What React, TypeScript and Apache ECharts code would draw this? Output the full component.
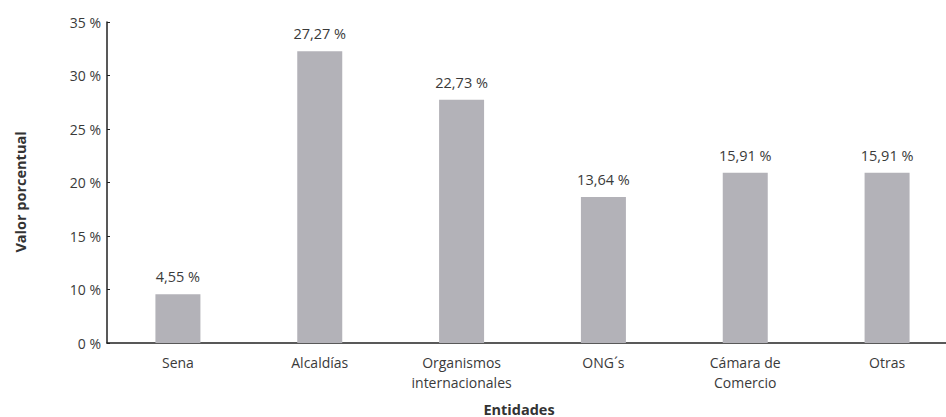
import React, { useEffect, useRef } from "react";
import * as echarts from "echarts";

const categories = ["Sena", "Alcaldías", "Organismos\ninternacionales", "ONG´s", "Cámara de\nComercio", "Otras"];
const values = [4.55, 27.27, 22.73, 13.64, 15.91, 15.91];
const valueLabels = ["4,55 %", "27,27 %", "22,73 %", "13,64 %", "15,91 %", "15,91 %"];
const yTickLabels = ["0 %", "10 %", "15 %", "20 %", "25 %", "30 %", "35 %"];

const FONT = "'Open Sans', 'Noto Sans', sans-serif";

export default function App() {
  const ref = useRef<HTMLDivElement>(null);
  useEffect(() => {
    const chart = echarts.init(ref.current!, null, { renderer: "svg" });
    chart.setOption({
      animation: false,
      backgroundColor: "#ffffff",
      grid: {
        left: 107,
        width: 851,
        top: 22,
        bottom: 74,
        containLabel: false,
        outerBoundsMode: "none",
      },
      xAxis: {
        type: "category",
        data: categories,
        axisLine: { show: true, lineStyle: { color: "#222", width: 1.5 } },
        axisTick: { show: false },
        axisLabel: { color: "#3a3a3a", fontSize: 14, fontFamily: FONT, margin: 9, lineHeight: 20, interval: 0 },
      },
      yAxis: {
        type: "value",
        min: 0,
        max: 30,
        interval: 5,
        splitLine: { show: false },
        axisLine: { show: true, lineStyle: { color: "#222", width: 1.5 } },
        axisTick: { show: true, inside: true, length: 3, lineStyle: { color: "#222" } },
        axisLabel: {
          color: "#3a3a3a",
          fontSize: 14,
          fontFamily: FONT,
          margin: 6,
          formatter: (v: number) => yTickLabels[Math.round(v / 5)] ?? "",
        },
      },
      series: [
        {
          type: "bar",
          data: values,
          barWidth: 45,
          itemStyle: { color: "#b3b2b8" },
          label: {
            show: true,
            position: "top",
            distance: 10,
            color: "#3a3a3a",
            fontSize: 14.5,
            fontFamily: FONT,
            formatter: (p: any) => valueLabels[p.dataIndex],
          },
        },
      ],
      graphic: [
        {
          type: "text",
          x: 20,
          y: 192,
          rotation: Math.PI / 2,
          style: {
            text: "Valor porcentual",
            fill: "#333",
            font: `bold 14.5px ${FONT}`,
            textAlign: "center",
            textVerticalAlign: "middle",
          },
        },
        {
          type: "text",
          x: 519,
          y: 409,
          style: {
            text: "Entidades",
            fill: "#333",
            font: `bold 14.5px ${FONT}`,
            textAlign: "center",
            textVerticalAlign: "middle",
          },
        },
      ],
    });
    return () => chart.dispose();
  }, []);
  return <div ref={ref} style={{ width: 946, height: 417, position: "absolute", left: 0, top: 0 }} />;
}
